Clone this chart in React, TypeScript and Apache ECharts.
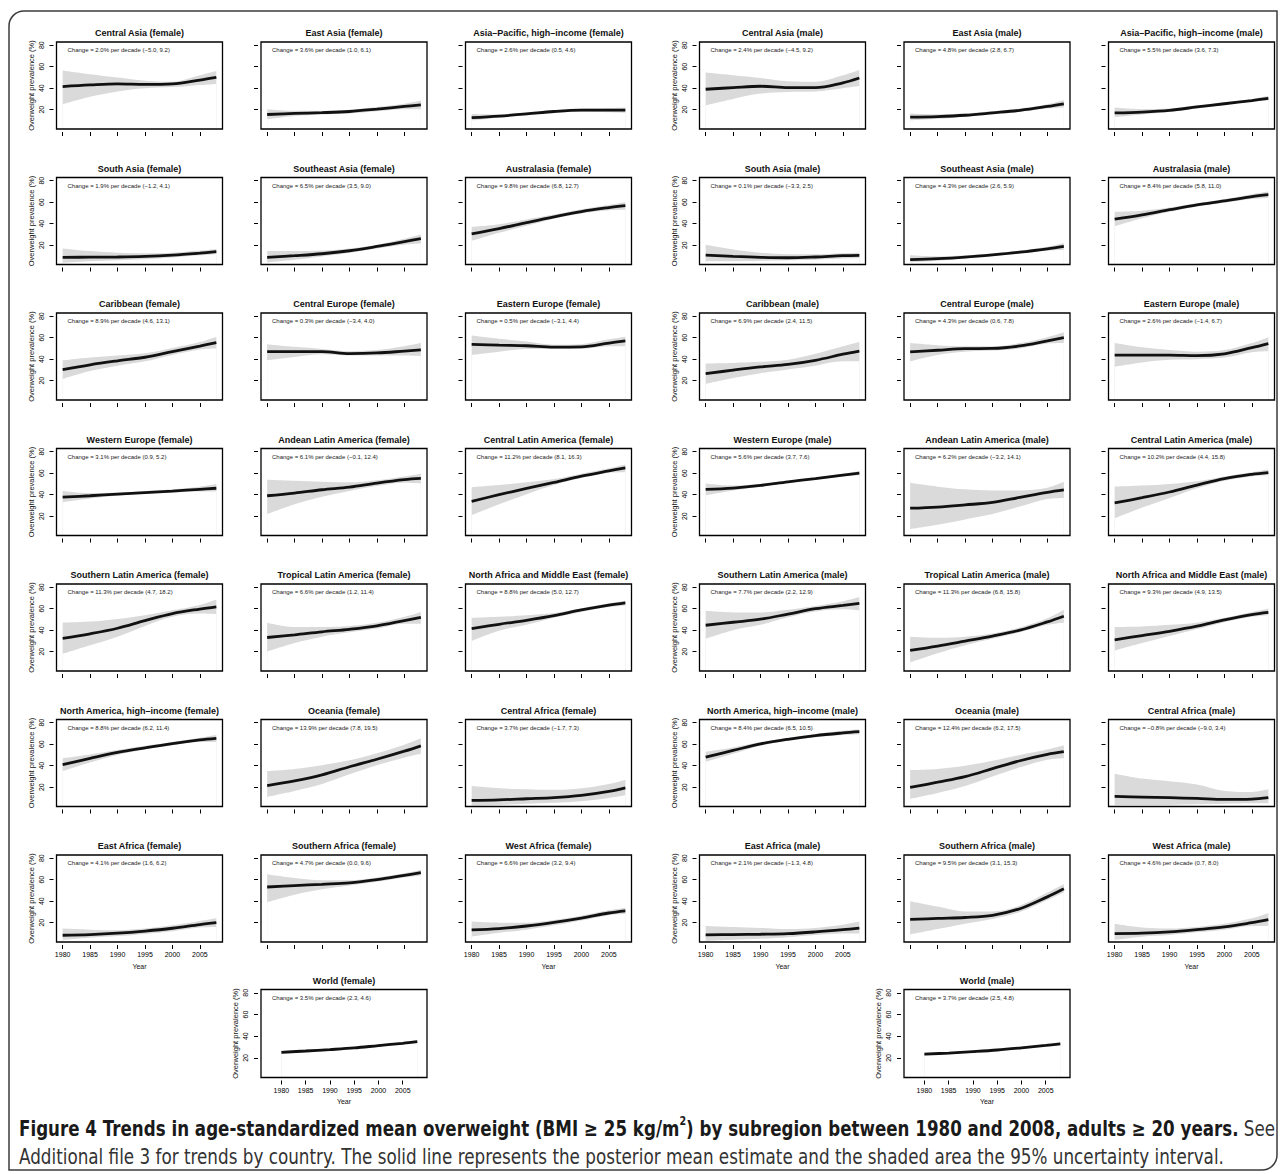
import React, { useEffect, useRef } from "react";
import * as echarts from "echarts";

// ---------- data ----------
const YEARS = [1980, 1985, 1990, 1995, 2000, 2005, 2008];
const X_TICKS = [1980, 1985, 1990, 1995, 2000, 2005];
const Y_TICKS = [20, 40, 60, 80];

// Female
const centralAsiaF_mean = [41.5, 43, 44, 43.5, 44, 47.5, 50];
const centralAsiaF_lo = [25, 32, 37, 40, 41, 43, 44];
const centralAsiaF_hi = [56.5, 53, 50, 47, 46, 52, 56];
const eastAsiaF_mean = [15.5, 16.5, 17.2, 18.3, 20.5, 23, 24.5];
const eastAsiaF_lo = [11, 14, 15.5, 16.5, 18.5, 20.5, 20.5];
const eastAsiaF_hi = [20.5, 19, 19, 20, 22.5, 25.5, 28.5];
const asiaPacF_mean = [12.5, 14, 16, 18.3, 19.5, 19.5, 19.5];
const asiaPacF_lo = [10, 12.5, 14.8, 17, 18, 17.5, 17];
const asiaPacF_hi = [16, 15.5, 17.3, 19.6, 21, 21.5, 22];
const southAsiaF_mean = [8.7, 8.8, 9, 9.6, 10.8, 12.6, 13.9];
const southAsiaF_lo = [3.6, 5, 6, 7, 8.5, 10.5, 11.5];
const southAsiaF_hi = [17, 14.5, 13, 12.5, 13, 15, 16.5];
const seAsiaF_mean = [8.7, 10.2, 12, 14.8, 18.8, 23.3, 26];
const seAsiaF_lo = [4, 6.5, 9.5, 13, 17, 20.5, 21.5];
const seAsiaF_hi = [14.5, 14.5, 15, 17, 20.5, 26, 30];
const australasiaF_mean = [30.5, 35.4, 41, 46.4, 51.3, 55, 56.8];
const australasiaF_lo = [24, 31.5, 38, 44.5, 49.5, 52.5, 53];
const australasiaF_hi = [37, 39.5, 44, 48.5, 53.5, 57.5, 60];
const caribbeanF_mean = [30.2, 34.8, 38.5, 41.8, 47, 52.2, 55.4];
const caribbeanF_lo = [21.6, 29, 34, 38, 44, 49, 50];
const caribbeanF_hi = [38.8, 41.5, 43.5, 45.5, 50.5, 56, 61];
const centralEuropeF_mean = [47, 47, 47, 45.2, 45.8, 47.5, 48.6];
const centralEuropeF_lo = [39, 42, 44.5, 43.5, 43.5, 43.5, 43];
const centralEuropeF_hi = [54, 51.5, 49.5, 47.5, 48.5, 52, 55];
const easternEuropeF_mean = [53.7, 53, 52.5, 51.3, 51.5, 55, 57];
const easternEuropeF_lo = [44, 47, 49.5, 49.5, 49.5, 52, 52];
const easternEuropeF_hi = [62, 59, 56.5, 53.5, 54, 58.5, 61];
const westernEuropeF_mean = [37.8, 39, 40.5, 42, 43.4, 45, 46];
const westernEuropeF_lo = [33, 36.5, 39, 41, 42, 43, 43];
const westernEuropeF_hi = [43.5, 41.5, 42, 43.5, 45, 47.5, 50];
const andeanF_mean = [39, 41.5, 44.6, 47, 50.8, 54, 55.1];
const andeanF_lo = [22, 31, 38, 43.5, 48, 51, 50.5];
const andeanF_hi = [54, 53, 52, 51.5, 53.5, 57, 59.5];
const centralLatF_mean = [33.8, 40, 45.8, 51.4, 57.3, 62.2, 65];
const centralLatF_lo = [21, 31, 40.5, 49, 55.5, 60.5, 61];
const centralLatF_hi = [47, 49, 51.5, 54.5, 59.5, 64.5, 68];
const southernLatF_mean = [32.3, 36.6, 41.8, 48.9, 55.4, 59.7, 61.8];
const southernLatF_lo = [18, 26, 34, 44, 52.5, 55.5, 55];
const southernLatF_hi = [47, 48, 50.5, 54, 58.5, 63.5, 68.5];
const tropicalLatF_mean = [33.2, 35.7, 38.5, 40.8, 44, 49, 52];
const tropicalLatF_lo = [20, 28, 34, 38, 41.5, 46, 46];
const tropicalLatF_hi = [47, 43, 43, 44, 47, 52.5, 57];
const northAfricaF_mean = [41.5, 45.5, 49.2, 53.5, 58.8, 63.4, 65.5];
const northAfricaF_lo = [30, 39.5, 45, 51.5, 57, 61.5, 63];
const northAfricaF_hi = [51.5, 52.5, 54, 56, 60.5, 65, 67.5];
const northAmericaF_mean = [41, 46.8, 52.3, 56.6, 60.6, 64, 65.5];
const northAmericaF_lo = [35, 43, 50, 55, 59, 62, 62];
const northAmericaF_hi = [47, 50.5, 54.5, 58.5, 62, 66, 68.5];
const oceaniaF_mean = [21.5, 25.8, 31.4, 39, 46, 53.5, 58.5];
const oceaniaF_lo = [11, 16.5, 23, 32, 40.5, 47.5, 51];
const oceaniaF_hi = [35, 37, 40.5, 45, 51.5, 59.5, 65.5];
const centralAfricaF_mean = [7.7, 8.2, 9.2, 10.2, 12.3, 16, 19.4];
const centralAfricaF_lo = [3, 3.5, 4.5, 5.5, 7, 10, 12.5];
const centralAfricaF_hi = [21, 19, 18, 17.5, 19, 23, 27];
const eastAfricaF_mean = [8.3, 8.9, 10.2, 12.2, 14.8, 18.2, 20];
const eastAfricaF_lo = [4, 6, 7.5, 9.5, 12, 15.5, 16];
const eastAfricaF_hi = [14.5, 13.5, 13, 14.5, 17.5, 21.5, 24];
const southernAfricaF_mean = [53.2, 54.5, 55.7, 57, 60, 64, 66.5];
const southernAfricaF_lo = [39, 46, 51, 54.5, 58, 62, 64];
const southernAfricaF_hi = [65, 61.5, 59.5, 59.5, 62, 66, 69];
const westAfricaF_mean = [13.2, 14.5, 16.9, 20.3, 24.3, 29, 31];
const westAfricaF_lo = [7, 10.5, 13.5, 17.5, 22, 27, 28];
const westAfricaF_hi = [21, 20, 20, 22.5, 26.5, 31.5, 34];
const worldF_mean = [25.2, 26.4, 27.7, 29.2, 31.4, 33.5, 35];
const worldF_lo = [23.8, 25.3, 26.7, 28.3, 30.4, 32.4, 33.6];
const worldF_hi = [26.6, 27.5, 28.7, 30.1, 32.4, 34.6, 36.4];

// Male
const centralAsiaM_mean = [39, 40.5, 41.8, 40.5, 40.5, 45, 49.5];
const centralAsiaM_lo = [24, 30, 35, 36.5, 37, 40, 42];
const centralAsiaM_hi = [54.5, 52, 49.5, 46.5, 46, 52, 57];
const eastAsiaM_mean = [13, 13.6, 14.8, 17, 19.4, 23, 25.5];
const eastAsiaM_lo = [10, 11.5, 13.5, 15.8, 18, 21, 22];
const eastAsiaM_hi = [16.5, 15.8, 16.5, 18.5, 21, 25, 29];
const asiaPacM_mean = [17, 17.8, 19.4, 22.5, 25.5, 28.5, 30.5];
const asiaPacM_lo = [13, 15.5, 18, 21, 24.5, 27.5, 28.5];
const asiaPacM_hi = [22, 20.5, 21, 24, 27, 30, 33];
const southAsiaM_mean = [10.8, 9.6, 8.7, 8.3, 9, 10.2, 10.5];
const southAsiaM_lo = [5, 5, 5.5, 6, 6.5, 7.5, 8];
const southAsiaM_hi = [20.3, 16, 13, 11.5, 11.5, 12.5, 13];
const seAsiaM_mean = [6.5, 7.4, 8.9, 11, 13.5, 16.6, 18.8];
const seAsiaM_lo = [4, 5.5, 7.5, 9.8, 12.2, 15, 15.5];
const seAsiaM_hi = [10.5, 9.5, 10.5, 12.2, 15, 18.5, 22];
const australasiaM_mean = [44.3, 48.3, 53, 57.5, 61.2, 65.2, 67];
const australasiaM_lo = [37.5, 45, 51, 56, 59.5, 63, 64];
const australasiaM_hi = [51, 52, 55, 59, 63, 67.5, 70];
const caribbeanM_mean = [26.5, 29.8, 32.8, 35.2, 39, 44.6, 47.6];
const caribbeanM_lo = [17, 22.5, 27, 30.5, 34, 38, 38];
const caribbeanM_hi = [36, 36.5, 37.5, 39.5, 45, 52, 56];
const centralEuropeM_mean = [46.8, 48.3, 49.8, 50, 52.3, 57, 60];
const centralEuropeM_lo = [38, 44, 47, 48, 50, 54.5, 55];
const centralEuropeM_hi = [55, 53, 52, 52, 55, 60.5, 65];
const easternEuropeM_mean = [43.7, 43.7, 43.8, 43.3, 45, 50.7, 54.5];
const easternEuropeM_lo = [33, 37, 39.5, 40, 41.5, 46.5, 47.5];
const easternEuropeM_hi = [55, 51, 48.5, 47, 48.5, 55, 60.5];
const westernEuropeM_mean = [45, 46.2, 48.6, 52, 55, 58.2, 60];
const westernEuropeM_lo = [39.5, 44, 47.5, 51, 54, 57, 58];
const westernEuropeM_hi = [50.5, 48.5, 50, 53, 56, 59.5, 62];
const andeanM_mean = [27.4, 28.5, 30.5, 32.8, 37.5, 42.2, 44.5];
const andeanM_lo = [8, 12, 17, 22, 29, 36, 37];
const andeanM_hi = [51, 47.5, 45, 44, 44, 46.5, 52];
const centralLatM_mean = [32.3, 37.2, 42.5, 49, 55, 59, 60.6];
const centralLatM_lo = [18, 28, 37, 46, 53, 57, 58];
const centralLatM_hi = [47.5, 48.5, 50, 52.5, 57, 61, 63.5];
const southernLatM_mean = [44.6, 47.4, 50.2, 55, 60, 63, 64.9];
const southernLatM_lo = [32, 40, 45, 52, 57.5, 59.5, 58.5];
const southernLatM_hi = [58, 56.5, 56.5, 59, 62.5, 67, 71];
const tropicalLatM_mean = [21.2, 25.2, 29.8, 34.5, 40, 47.7, 53];
const tropicalLatM_lo = [10, 18.5, 26, 32, 38, 45, 47];
const tropicalLatM_hi = [34, 33, 34, 37, 42.5, 51, 59];
const northAfricaM_mean = [31, 35, 39, 43.7, 49.5, 54.5, 56.6];
const northAfricaM_lo = [21, 28, 34.5, 41, 47.5, 52.5, 54];
const northAfricaM_hi = [43, 43.5, 45, 47, 51.5, 57, 60];
const northAmericaM_mean = [48, 54.2, 60.3, 64.6, 68, 70.5, 71.7];
const northAmericaM_lo = [43.5, 51, 58.5, 63.5, 66.5, 68.5, 69];
const northAmericaM_hi = [53, 57, 62, 66, 69.5, 72.5, 74];
const oceaniaM_mean = [19.7, 24.6, 29.8, 37.2, 44.6, 50.5, 53];
const oceaniaM_lo = [9, 14.5, 21, 30, 38.5, 45.5, 47];
const oceaniaM_hi = [36, 37, 40, 44.5, 50, 55, 59];
const centralAfricaM_mean = [11.4, 10.8, 10.2, 9.5, 8.6, 8.9, 10.2];
const centralAfricaM_lo = [3.5, 3.5, 3.5, 4, 4.5, 5, 5];
const centralAfricaM_hi = [32.6, 28, 25.5, 22.5, 16.5, 15.5, 18];
const eastAfricaM_mean = [8.6, 8.9, 9.2, 9.8, 11.4, 13.5, 15];
const eastAfricaM_lo = [3, 4, 5, 6.5, 8.5, 10, 10];
const eastAfricaM_hi = [17, 16, 15, 14, 15, 18, 21];
const southernAfricaM_mean = [23, 24, 24.8, 26.8, 33, 44, 51.5];
const southernAfricaM_lo = [9, 14, 19, 23.5, 30, 41, 48];
const southernAfricaM_hi = [40, 35, 30.5, 30.5, 36, 48, 56];
const westAfricaM_mean = [9.8, 10.2, 11.4, 13.5, 16, 20, 22.8];
const westAfricaM_lo = [4, 7, 8.5, 11, 13.5, 17, 17];
const westAfricaM_hi = [19, 15.5, 14.5, 16, 19, 24, 29];
const worldM_mean = [23.5, 24.5, 25.8, 27.3, 29.3, 31.5, 33];
const worldM_lo = [22.3, 23.5, 24.9, 26.4, 28.4, 30.5, 31.6];
const worldM_hi = [24.7, 25.5, 26.7, 28.2, 30.2, 32.5, 34.4];

type P = [string, string, number[], number[], number[]];

const FEMALE: P[] = [
  ["Central Asia (female)", "Change = 2.0% per decade (\u22125.0, 9.2)", centralAsiaF_mean, centralAsiaF_lo, centralAsiaF_hi],
  ["East Asia (female)", "Change = 3.6% per decade (1.0, 6.1)", eastAsiaF_mean, eastAsiaF_lo, eastAsiaF_hi],
  ["Asia\u2013Pacific, high\u2013income (female)", "Change = 2.6% per decade (0.5, 4.6)", asiaPacF_mean, asiaPacF_lo, asiaPacF_hi],
  ["South Asia (female)", "Change = 1.9% per decade (\u22121.2, 4.1)", southAsiaF_mean, southAsiaF_lo, southAsiaF_hi],
  ["Southeast Asia (female)", "Change = 6.5% per decade (3.5, 9.0)", seAsiaF_mean, seAsiaF_lo, seAsiaF_hi],
  ["Australasia (female)", "Change = 9.8% per decade (6.8, 12.7)", australasiaF_mean, australasiaF_lo, australasiaF_hi],
  ["Caribbean (female)", "Change = 8.9% per decade (4.6, 13.1)", caribbeanF_mean, caribbeanF_lo, caribbeanF_hi],
  ["Central Europe (female)", "Change = 0.3% per decade (\u22123.4, 4.0)", centralEuropeF_mean, centralEuropeF_lo, centralEuropeF_hi],
  ["Eastern Europe (female)", "Change = 0.5% per decade (\u22123.1, 4.4)", easternEuropeF_mean, easternEuropeF_lo, easternEuropeF_hi],
  ["Western Europe (female)", "Change = 3.1% per decade (0.9, 5.2)", westernEuropeF_mean, westernEuropeF_lo, westernEuropeF_hi],
  ["Andean Latin America (female)", "Change = 6.1% per decade (\u22120.1, 12.4)", andeanF_mean, andeanF_lo, andeanF_hi],
  ["Central Latin America (female)", "Change = 11.2% per decade (8.1, 16.3)", centralLatF_mean, centralLatF_lo, centralLatF_hi],
  ["Southern Latin America (female)", "Change = 11.3% per decade (4.7, 18.2)", southernLatF_mean, southernLatF_lo, southernLatF_hi],
  ["Tropical Latin America (female)", "Change = 6.6% per decade (1.2, 11.4)", tropicalLatF_mean, tropicalLatF_lo, tropicalLatF_hi],
  ["North Africa and Middle East (female)", "Change = 8.8% per decade (5.0, 12.7)", northAfricaF_mean, northAfricaF_lo, northAfricaF_hi],
  ["North America, high\u2013income (female)", "Change = 8.8% per decade (6.2, 11.4)", northAmericaF_mean, northAmericaF_lo, northAmericaF_hi],
  ["Oceania (female)", "Change = 13.9% per decade (7.8, 19.5)", oceaniaF_mean, oceaniaF_lo, oceaniaF_hi],
  ["Central Africa (female)", "Change = 3.7% per decade (\u22121.7, 7.3)", centralAfricaF_mean, centralAfricaF_lo, centralAfricaF_hi],
  ["East Africa (female)", "Change = 4.1% per decade (1.6, 6.2)", eastAfricaF_mean, eastAfricaF_lo, eastAfricaF_hi],
  ["Southern Africa (female)", "Change = 4.7% per decade (0.0, 9.6)", southernAfricaF_mean, southernAfricaF_lo, southernAfricaF_hi],
  ["West Africa (female)", "Change = 6.6% per decade (3.2, 9.4)", westAfricaF_mean, westAfricaF_lo, westAfricaF_hi],
];

const MALE: P[] = [
  ["Central Asia (male)", "Change = 2.4% per decade (\u22124.5, 9.2)", centralAsiaM_mean, centralAsiaM_lo, centralAsiaM_hi],
  ["East Asia (male)", "Change = 4.8% per decade (2.8, 6.7)", eastAsiaM_mean, eastAsiaM_lo, eastAsiaM_hi],
  ["Asia\u2013Pacific, high\u2013income (male)", "Change = 5.5% per decade (3.6, 7.3)", asiaPacM_mean, asiaPacM_lo, asiaPacM_hi],
  ["South Asia (male)", "Change = 0.1% per decade (\u22123.3, 2.5)", southAsiaM_mean, southAsiaM_lo, southAsiaM_hi],
  ["Southeast Asia (male)", "Change = 4.3% per decade (2.6, 5.9)", seAsiaM_mean, seAsiaM_lo, seAsiaM_hi],
  ["Australasia (male)", "Change = 8.4% per decade (5.8, 11.0)", australasiaM_mean, australasiaM_lo, australasiaM_hi],
  ["Caribbean (male)", "Change = 6.9% per decade (2.4, 11.5)", caribbeanM_mean, caribbeanM_lo, caribbeanM_hi],
  ["Central Europe (male)", "Change = 4.3% per decade (0.6, 7.8)", centralEuropeM_mean, centralEuropeM_lo, centralEuropeM_hi],
  ["Eastern Europe (male)", "Change = 2.6% per decade (\u22121.4, 6.7)", easternEuropeM_mean, easternEuropeM_lo, easternEuropeM_hi],
  ["Western Europe (male)", "Change = 5.6% per decade (3.7, 7.6)", westernEuropeM_mean, westernEuropeM_lo, westernEuropeM_hi],
  ["Andean Latin America (male)", "Change = 6.2% per decade (\u22123.2, 14.1)", andeanM_mean, andeanM_lo, andeanM_hi],
  ["Central Latin America (male)", "Change = 10.2% per decade (4.4, 15.8)", centralLatM_mean, centralLatM_lo, centralLatM_hi],
  ["Southern Latin America (male)", "Change = 7.7% per decade (2.2, 12.9)", southernLatM_mean, southernLatM_lo, southernLatM_hi],
  ["Tropical Latin America (male)", "Change = 11.3% per decade (6.8, 15.8)", tropicalLatM_mean, tropicalLatM_lo, tropicalLatM_hi],
  ["North Africa and Middle East (male)", "Change = 9.3% per decade (4.9, 13.5)", northAfricaM_mean, northAfricaM_lo, northAfricaM_hi],
  ["North America, high\u2013income (male)", "Change = 8.4% per decade (6.5, 10.5)", northAmericaM_mean, northAmericaM_lo, northAmericaM_hi],
  ["Oceania (male)", "Change = 12.4% per decade (6.2, 17.5)", oceaniaM_mean, oceaniaM_lo, oceaniaM_hi],
  ["Central Africa (male)", "Change = \u22120.8% per decade (\u22129.0, 3.4)", centralAfricaM_mean, centralAfricaM_lo, centralAfricaM_hi],
  ["East Africa (male)", "Change = 2.1% per decade (\u22121.3, 4.8)", eastAfricaM_mean, eastAfricaM_lo, eastAfricaM_hi],
  ["Southern Africa (male)", "Change = 9.5% per decade (3.1, 15.3)", southernAfricaM_mean, southernAfricaM_lo, southernAfricaM_hi],
  ["West Africa (male)", "Change = 4.6% per decade (0.7, 8.0)", westAfricaM_mean, westAfricaM_lo, westAfricaM_hi],
];

const WORLD: P[] = [
  ["World (female)", "Change = 3.5% per decade (2.3, 4.6)", worldF_mean, worldF_lo, worldF_hi],
  ["World (male)", "Change = 3.7% per decade (2.5, 4.8)", worldM_mean, worldM_lo, worldM_hi],
];

// ---------- layout ----------
const FONT = "'Liberation Sans', Arial, Helvetica, sans-serif";
const CAP_FONT = "'DejaVu Sans', 'Liberation Sans', sans-serif";
const COL_LEFT = [56.5, 261, 465.5];
const MALE_SHIFT = 643;
const BOX_W = 166;
const BOX_H = 87;
const ROW_TOP0 = 42;
const ROW_STEP = 135.5;
const BAND = "#dadada";

type Spec = {
  p: P;
  left: number;
  top: number;
  h: number;
  xLab: boolean;
  yLab: boolean;
  xMin: number;
  xMax: number;
};

function buildSpecs(): Spec[] {
  const specs: Spec[] = [];
  [FEMALE, MALE].forEach((list, sex) => {
    list.forEach((p, i) => {
      const r = Math.floor(i / 3);
      const c = i % 3;
      specs.push({
        p,
        left: COL_LEFT[c] + sex * MALE_SHIFT,
        top: ROW_TOP0 + r * ROW_STEP,
        h: BOX_H,
        xLab: r === 6 && c !== 1,
        yLab: c === 0,
        xMin: 1978.88,
        xMax: 2009.12,
      });
    });
  });
  WORLD.forEach((p, sex) => {
    specs.push({
      p,
      left: COL_LEFT[1] + sex * MALE_SHIFT,
      top: 989.5,
      h: 88,
      xLab: true,
      yLab: true,
      xMin: 1975.8,
      xMax: 2010,
    });
  });
  return specs;
}

function buildOption() {
  const specs = buildSpecs();
  const grid: any[] = [];
  const xAxis: any[] = [];
  const yAxis: any[] = [];
  const series: any[] = [];
  const graphic: any[] = [];

  graphic.push({
    type: "rect",
    shape: { x: 9, y: 11, width: 1268, height: 1159, r: [15, 0, 15, 0] },
    style: { fill: "none", stroke: "#3c3c3c", lineWidth: 1.5 },
    silent: true,
    z: -10,
  });

  specs.forEach((s, i) => {
    const [title, change, mean, lo, hi] = s.p;
    grid.push({
      left: s.left,
      top: s.top,
      width: BOX_W,
      height: s.h,
      show: false,
    });
    xAxis.push({
      type: "value",
      gridIndex: i,
      min: s.xMin,
      max: s.xMax,
      offset: 3,
      axisLine: { show: false },
      splitLine: { show: false },
      axisTick: {
        show: true,
        length: 4,
        lineStyle: { color: "#000", width: 1 },
        customValues: X_TICKS,
      },
      axisLabel: {
        show: s.xLab,
        customValues: X_TICKS,
        formatter: (v: number) => String(v),
        fontSize: 7,
        fontFamily: FONT,
        color: "#000",
        margin: 6,
      },
    });
    yAxis.push({
      type: "value",
      gridIndex: i,
      min: 2,
      max: 83,
      offset: 3,
      axisLine: { show: false },
      splitLine: { show: false },
      axisTick: {
        show: true,
        length: 4,
        lineStyle: { color: "#000", width: 1 },
        customValues: Y_TICKS,
      },
      axisLabel: {
        show: s.yLab,
        customValues: Y_TICKS,
        formatter: (v: number) => String(v),
        rotate: 90,
        fontSize: 7,
        fontFamily: FONT,
        color: "#000",
        margin: 9,
      },
    });
    // upper bound filled down to the axis floor (grey)
    series.push({
      type: "line",
      xAxisIndex: i,
      yAxisIndex: i,
      smooth: 0.35,
      symbol: "none",
      silent: true,
      lineStyle: { opacity: 0, width: 0 },
      areaStyle: { color: BAND, opacity: 1, origin: "start" },
      data: YEARS.map((y, k) => [y, hi[k]]),
      z: 1,
    });
    // lower bound masks the area below it (white) -> leaves the band
    series.push({
      type: "line",
      xAxisIndex: i,
      yAxisIndex: i,
      smooth: 0.35,
      symbol: "none",
      silent: true,
      lineStyle: { opacity: 0, width: 0 },
      areaStyle: { color: "#ffffff", opacity: 1, origin: "start" },
      data: YEARS.map((y, k) => [y, lo[k]]),
      z: 2,
    });
    // posterior mean
    series.push({
      type: "line",
      xAxisIndex: i,
      yAxisIndex: i,
      smooth: 0.35,
      symbol: "none",
      silent: true,
      lineStyle: { color: "#111", width: 2.8 },
      data: YEARS.map((y, k) => [y, mean[k]]),
      z: 3,
    });

    // box
    graphic.push({
      type: "rect",
      shape: { x: s.left, y: s.top, width: BOX_W, height: s.h },
      style: { fill: "none", stroke: "#000", lineWidth: 1.3 },
      silent: true,
      z: 50,
    });
    // texts
    graphic.push({
      type: "text",
      x: s.left + BOX_W / 2,
      y: s.top - 9,
      silent: true,
      z: 50,
      style: {
        text: title,
        align: "center",
        verticalAlign: "middle",
        fontSize: 9,
        fontWeight: "bold",
        fontFamily: FONT,
        fill: "#111",
      },
    });
    graphic.push({
      type: "text",
      x: s.left + 11,
      y: s.top + 8,
      silent: true,
      z: 50,
      style: {
        text: change,
        align: "left",
        verticalAlign: "middle",
        fontSize: 6,
        fontFamily: FONT,
        fill: "#222",
      },
    });
    if (s.yLab) {
      graphic.push({
        type: "text",
        x: s.left - 25.5,
        y: s.top + s.h / 2,
        rotation: Math.PI / 2,
        silent: true,
        z: 50,
        style: {
          text: "Overweight prevalence (%)",
          align: "center",
          verticalAlign: "middle",
          fontSize: 7.5,
          fontFamily: FONT,
          fill: "#111",
        },
      });
    }
    if (s.xLab) {
      graphic.push({
        type: "text",
        x: s.left + BOX_W / 2,
        y: s.top + s.h + 24,
        silent: true,
        z: 50,
        style: {
          text: "Year",
          align: "center",
          verticalAlign: "middle",
          fontSize: 7,
          fontFamily: FONT,
          fill: "#111",
        },
      });
    }
  });

  // caption
  graphic.push({
    type: "text",
    x: 19,
    y: 1128,
    scaleX: 0.795,
    silent: true,
    z: 50,
    style: {
      text:
        "{b|Figure 4 Trends in age-standardized mean overweight (BMI \u2265 25 kg/m}{sup|2}{b|) by subregion between 1980 and 2008, adults \u2265 20 years.}{n| See}",
      align: "left",
      verticalAlign: "middle",
      rich: {
        b: { fontSize: 21, fontWeight: "bold", fontFamily: CAP_FONT, fill: "#1a1a1a", lineHeight: 26 },
        sup: { fontSize: 12, fontWeight: "bold", fontFamily: CAP_FONT, fill: "#1a1a1a", verticalAlign: "top", lineHeight: 26 },
        n: { fontSize: 21, fontFamily: CAP_FONT, fill: "#333", lineHeight: 26 },
      },
    },
  });
  graphic.push({
    type: "text",
    x: 19,
    y: 1156,
    scaleX: 0.8,
    silent: true,
    z: 50,
    style: {
      text:
        "Additional file 3 for trends by country. The solid line represents the posterior mean estimate and the shaded area the 95% uncertainty interval.",
      align: "left",
      verticalAlign: "middle",
      fontSize: 21,
      fontFamily: CAP_FONT,
      fill: "#333",
    },
  });

  return {
    animation: false,
    backgroundColor: "#fff",
    grid,
    xAxis,
    yAxis,
    series,
    graphic,
  };
}

export default function App() {
  const ref = useRef<HTMLDivElement>(null);
  useEffect(() => {
    document.body.style.margin = "0";
    document.body.style.overflow = "hidden";
    if (!ref.current) return;
    const chart = echarts.init(ref.current, undefined, { renderer: "svg" });
    chart.setOption(buildOption());
    return () => chart.dispose();
  }, []);
  return (
    <div
      ref={ref}
      style={{ position: "absolute", left: 0, top: 0, width: 1282, height: 1174 }}
    />
  );
}
